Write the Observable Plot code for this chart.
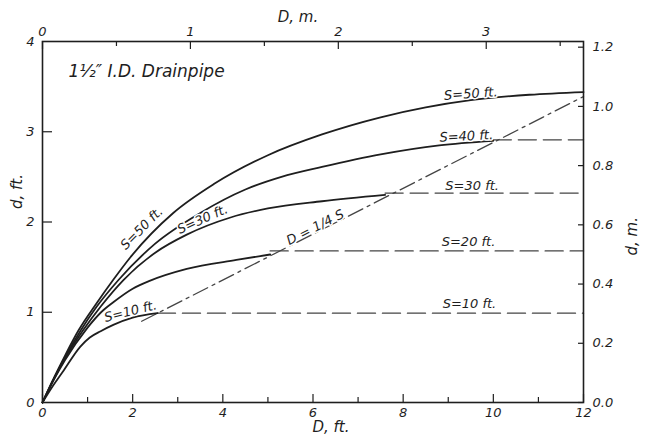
<!DOCTYPE html>
<html><head><meta charset="utf-8">
<script src="https://cdn.jsdelivr.net/npm/d3@7"></script>
<script src="https://cdn.jsdelivr.net/npm/@observablehq/plot@0.6"></script>
<style>
body{margin:0;background:#fff;}
#chart svg{font-family:"DejaVu Sans",sans-serif;font-style:italic;}
</style></head><body><div id="chart"></div>
<script>
// ---- data (D in ft, d in ft) ----
const s50 = [[0,0],[0.25,0.27],[0.5,0.52],[0.8,0.8],[1.2,1.1],[1.57,1.36],[1.95,1.61],[2.9,2.1],[3.8,2.42],[5,2.74],[6.2,2.97],[7.5,3.16],[8.5,3.27],[9.5,3.35],[10.8,3.41],[12,3.44]];
const s40 = [[0,0],[0.25,0.26],[0.5,0.5],[0.85,0.8],[1.2,1.06],[1.69,1.36],[2.5,1.76],[3.5,2.1],[4.5,2.36],[5.3,2.5],[6.2,2.61],[7.5,2.75],[8.8,2.85],[10,2.9]];
const s30 = [[0,0],[0.25,0.26],[0.5,0.49],[0.9,0.8],[1.3,1.07],[1.8,1.36],[2.5,1.66],[3.2,1.86],[4.17,2.05],[5,2.15],[6.2,2.23],[7.6,2.3]];
const s20 = [[0,0],[0.25,0.25],[0.5,0.47],[1.0,0.83],[1.3,1.0],[1.57,1.11],[2.0,1.26],[2.39,1.35],[3.2,1.48],[4.3,1.58],[5.05,1.64]];
const s10 = [[0,0],[0.2,0.16],[0.45,0.34],[0.84,0.62],[1.05,0.72],[1.29,0.79],[1.57,0.86],[2,0.94],[2.55,0.99]];
// dashed continuations (d constant beyond D = S/4)
const flat40 = [[10,2.91],[12,2.91]];
const flat30 = [[7.6,2.32],[12,2.32]];
const flat20 = [[5.05,1.68],[12,1.68]];
const flat10 = [[2.55,0.99],[12,0.99]];
// D = 1/4 S line
const quarterLine = [[2.2,0.9],[12,3.39]];

// curve labels: text, D, d, angle
const curveLabels = [
  ["S=50 ft.", 2.2, 1.93, -45],
  ["S=30 ft.", 3.55, 2.03, -24],
  ["D = 1/4 S", 6.05, 1.94, -27],
  ["S=10 ft.", 1.95, 1.01, -14],
  ["S=50 ft.", 9.5, 3.42, -4],
  ["S=40 ft.", 9.4, 2.95, -3],
  ["S=30 ft.", 9.53, 2.4, 0],
  ["S=20 ft.", 9.45, 1.78, 0],
  ["S=10 ft.", 9.47, 1.09, 0]
];

// axes
const xMajor = [0,2,4,6,8,10,12];
const xMinor = [1,3,5,7,9,11];
const yTicks = [0,1,2,3,4];
const mTopMajor = [0,1,2,3];
const mTopMinor = [0.5,1.5,2.5,3.5];
const mRight = [0.0,0.2,0.4,0.6,0.8,1.0,1.2];
const FT_PER_M = 1/0.3048;

const W = 646, H = 441, mL = 42, mR = 63, mT = 41, mB = 39;
const pxX = 12/(W-mL-mR), pxY = 4/(H-mT-mB);
const ink = "#1e1e1e";
const fnt = {fontFamily:"DejaVu Sans", fontStyle:"italic", lineAnchor:"middle"};

const chart = Plot.plot({
  width: W, height: H,
  marginLeft: mL, marginRight: mR, marginTop: mT, marginBottom: mB,
  x: {domain:[0,12], axis:null},
  y: {domain:[0,4], axis:null},
  style: {background:"#fff", color: ink},
  marks: [
    // ticks (inward)
    Plot.ruleX(xMajor, {x:d=>d, y1:0, y2:8*pxY, stroke:ink, strokeWidth:1.2}),
    Plot.ruleX(xMinor, {x:d=>d, y1:0, y2:5*pxY, stroke:ink, strokeWidth:1.2}),
    Plot.ruleX(mTopMajor, {x:d=>d*FT_PER_M, y1:4-8*pxY, y2:4, stroke:ink, strokeWidth:1.2}),
    Plot.ruleX(mTopMinor, {x:d=>d*FT_PER_M, y1:4-5*pxY, y2:4, stroke:ink, strokeWidth:1.2}),
    Plot.ruleY([1,2,3], {y:d=>d, x1:0, x2:10*pxX, stroke:ink, strokeWidth:1.2}),
    Plot.ruleY(mRight, {y:d=>d*FT_PER_M, x1:12-5*pxX, x2:12, stroke:ink, strokeWidth:1.2}),
    // tick labels
    Plot.text(xMajor, {x:d=>d, frameAnchor:"bottom", dy:10, text:d=>String(d), fontSize:13, fill:ink, ...fnt}),
    Plot.text(yTicks, {y:d=>d, frameAnchor:"left", dx:-8, textAnchor:"end", text:d=>String(d), fontSize:13, fill:ink, ...fnt}),
    Plot.text(mTopMajor, {x:d=>d*FT_PER_M, frameAnchor:"top", dy:-10, text:d=>String(d), fontSize:13, fill:ink, ...fnt}),
    Plot.text(mRight, {y:d=>d*FT_PER_M, frameAnchor:"right", dx:9, textAnchor:"start", text:d=>d.toFixed(1), fontSize:13, fill:ink, ...fnt}),
    // axis titles
    Plot.text(["D, ft."], {frameAnchor:"bottom", dx:18, dy:25, text:d=>d, fontSize:15, fill:ink, ...fnt}),
    Plot.text(["D, m."], {frameAnchor:"top", dx:-15, dy:-24, text:d=>d, fontSize:15, fill:ink, ...fnt}),
    Plot.text(["d, ft."], {frameAnchor:"left", dx:-25, dy:-13, rotate:-90, text:d=>d, fontSize:15, fill:ink, ...fnt}),
    Plot.text(["d, m."], {frameAnchor:"right", dx:49, dy:-5, rotate:-90, text:d=>d, fontSize:15, fill:ink, ...fnt}),
    // title
    Plot.text(["1½\u2033 I.D. Drainpipe"], {frameAnchor:"top-left", dx:26, dy:30, textAnchor:"start", text:d=>d, fontSize:17, fill:ink, ...fnt}),
    // dashed continuations
    ...[flat40, flat30, flat20, flat10].map(f => Plot.line(f, {x:d=>d[0], y:d=>d[1], stroke:"#444", strokeWidth:1.4, strokeDasharray:"18,7"})),
    // D = 1/4 S dash-dot
    Plot.line(quarterLine, {x:d=>d[0], y:d=>d[1], stroke:"#444", strokeWidth:1.3, strokeDasharray:"16,5,3,5"}),
    // solid curves
    ...[s50, s40, s30, s20, s10].map(s => Plot.line(s, {x:d=>d[0], y:d=>d[1], curve:"monotone-x", stroke:ink, strokeWidth:1.8})),
    // curve labels
    Plot.text(curveLabels, {x:d=>d[1], y:d=>d[2], rotate:d=>d[3], text:d=>d[0], fontSize:13, fill:ink, stroke:"#fff", strokeWidth:3, paintOrder:"stroke", ...fnt}),
    Plot.frame({stroke:ink, strokeWidth:1.6})
  ]
});
document.getElementById("chart").appendChild(chart);
</script></body></html>
